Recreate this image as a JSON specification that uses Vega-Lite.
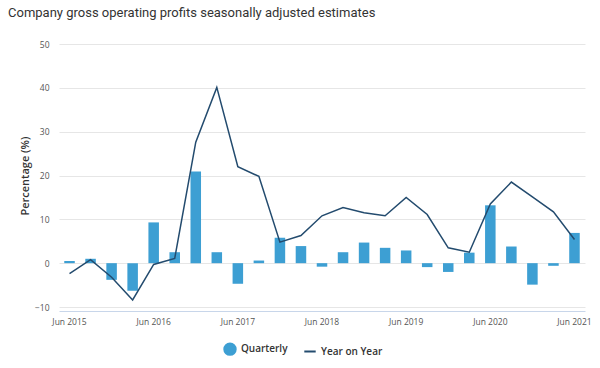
{
  "$schema": "https://vega.github.io/schema/vega-lite/v6.json",
  "width": 526,
  "height": 263,
  "autosize": "none",
  "padding": {"left": 59, "top": 44, "right": 15, "bottom": 61},
  "title": {
    "text": "Company gross operating profits seasonally adjusted estimates",
    "anchor": "start",
    "frame": "group",
    "dx": -51,
    "offset": 20,
    "fontSize": 13,
    "font": "Roboto",
    "fontWeight": "normal",
    "color": "#333333"
  },
  "config": {
    "view": {"stroke": null},
    "font": "Open Sans"
  },
  "data": {
    "values": [
      {"q": "Jun 2015", "quarterly": 0.5, "yoy": -2.4},
      {"q": "Sep 2015", "quarterly": 1.0, "yoy": 0.8},
      {"q": "Dec 2015", "quarterly": -3.8, "yoy": -3.2},
      {"q": "Mar 2016", "quarterly": -6.3, "yoy": -8.4},
      {"q": "Jun 2016", "quarterly": 9.3, "yoy": -0.3},
      {"q": "Sep 2016", "quarterly": 2.5, "yoy": 1.1},
      {"q": "Dec 2016", "quarterly": 20.9, "yoy": 27.6},
      {"q": "Mar 2017", "quarterly": 2.5, "yoy": 40.1},
      {"q": "Jun 2017", "quarterly": -4.7, "yoy": 22.0},
      {"q": "Sep 2017", "quarterly": 0.6, "yoy": 19.8},
      {"q": "Dec 2017", "quarterly": 5.8, "yoy": 4.8},
      {"q": "Mar 2018", "quarterly": 3.9, "yoy": 6.3},
      {"q": "Jun 2018", "quarterly": -0.8, "yoy": 10.8},
      {"q": "Sep 2018", "quarterly": 2.5, "yoy": 12.7},
      {"q": "Dec 2018", "quarterly": 4.7, "yoy": 11.5},
      {"q": "Mar 2019", "quarterly": 3.5, "yoy": 10.8},
      {"q": "Jun 2019", "quarterly": 2.9, "yoy": 15.0},
      {"q": "Sep 2019", "quarterly": -0.9, "yoy": 11.1},
      {"q": "Dec 2019", "quarterly": -2.0, "yoy": 3.5},
      {"q": "Mar 2020", "quarterly": 2.4, "yoy": 2.5},
      {"q": "Jun 2020", "quarterly": 13.2, "yoy": 13.5},
      {"q": "Sep 2020", "quarterly": 3.8, "yoy": 18.5},
      {"q": "Dec 2020", "quarterly": -4.9, "yoy": 15.1},
      {"q": "Mar 2021", "quarterly": -0.6, "yoy": 11.7},
      {"q": "Jun 2021", "quarterly": 6.9, "yoy": 5.4}
    ]
  },
  "encoding": {
    "x": {
      "field": "q",
      "type": "nominal",
      "sort": null,
      "scale": {"paddingInner": 0.5, "paddingOuter": 0.25},
      "axis": {
        "title": null,
        "values": ["Jun 2015", "Jun 2016", "Jun 2017", "Jun 2018", "Jun 2019", "Jun 2020", "Jun 2021"],
        "labelAngle": 0,
        "labelFontSize": 8.5,
        "labelColor": "#555555",
        "labelPadding": 6,
        "ticks": false,
        "domainColor": "#c8d6ea",
        "offset": 4,
        "grid": false
      }
    }
  },
  "layer": [
    {
      "mark": {"type": "bar"},
      "encoding": {
        "y": {
          "field": "quarterly",
          "type": "quantitative",
          "scale": {"domain": [-10, 50], "nice": false},
          "axis": {
            "title": "Percentage (%)",
            "titleFontSize": 11,
            "titleFontWeight": 600,
            "titleColor": "#333333",
            "titlePadding": 4,
            "values": [-10, 0, 10, 20, 30, 40, 50],
            "labelFontSize": 8.5,
            "labelColor": "#555555",
            "labelPadding": 10,
            "ticks": false,
            "domain": false,
            "gridColor": "#e6e6e6"
          }
        },
        "color": {
          "datum": "Quarterly",
          "scale": {"domain": ["Quarterly", "Year on Year"], "range": ["#3d9fd3", "#234b6e"]},
          "legend": {
            "title": null,
            "orient": "none",
            "legendX": 164,
            "legendY": 298,
            "direction": "horizontal",
            "labelFontSize": 10,
            "labelFontWeight": 600,
            "labelColor": "#333333",
            "labelOffset": 4,
            "symbolSize": 130,
            "columnPadding": 12,
            "encode": {
              "symbols": {
                "update": {
                  "shape": {"signal": "datum.value === 'Quarterly' ? 'circle' : 'stroke'"},
                  "fill": {"signal": "datum.value === 'Quarterly' ? '#3d9fd3' : 'transparent'"},
                  "stroke": {"signal": "datum.value === 'Quarterly' ? '#3d9fd3' : '#234b6e'"},
                  "strokeWidth": {"value": 2}
                }
              }
            }
          }
        }
      }
    },
    {
      "mark": {"type": "line", "strokeWidth": 1.5},
      "encoding": {
        "y": {"field": "yoy", "type": "quantitative"},
        "color": {"datum": "Year on Year"}
      }
    }
  ]
}
